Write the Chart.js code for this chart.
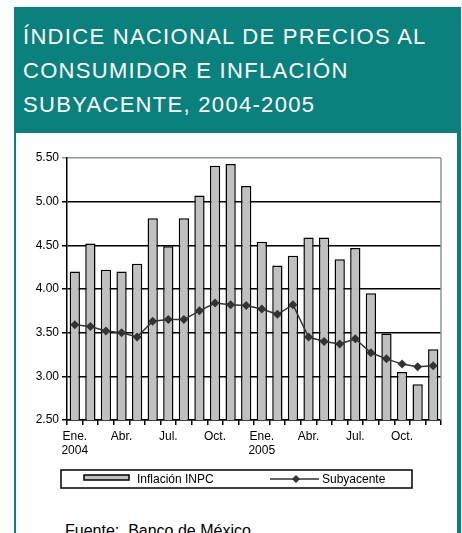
<!DOCTYPE html>
<html>
<head>
<meta charset="utf-8">
<script src="https://cdn.jsdelivr.net/npm/chart.js@4/dist/chart.umd.min.js"></script>
<style>
    body { margin: 0; width: 462px; height: 533px; overflow: hidden; background: #fff; font-family: 'Liberation Sans', Arial, sans-serif; }
    .marco { position: absolute; left: 14px; top: 7px; width: 447px; height: 540px; background: #0a817d; }
    .titulo { position: absolute; left: 9px; top: 13px; color: #fff; font-size: 22px; line-height: 34px; letter-spacing: 1.3px; }
    .panel { position: absolute; left: 2px; top: 126px; width: 441px; height: 420px; background: #fff; }
    .lienzo { position: absolute; left: 0; top: 7px; width: 441px; height: 370px; }
    .fuente { position: absolute; left: 49px; top: 390px; font-size: 16px; line-height: 16px; color: #000; }
</style>
</head>
<body>
<div class="marco">
    <div class="titulo">ÍNDICE NACIONAL DE PRECIOS AL<br>CONSUMIDOR E INFLACIÓN<br>SUBYACENTE, 2004-2005</div>
    <div class="panel">
        <div class="lienzo"><canvas id="grafica"></canvas></div>
        <div class="fuente">Fuente:&nbsp; Banco de México</div>
    </div>
</div>
<script>
    // etiquetas del eje x (solo algunos meses)
    const meses = [
        ['Ene.', '2004'], '', '', 'Abr.', '', '', 'Jul.', '', '', 'Oct.', '', '',
        ['Ene.', '2005'], '', '', 'Abr.', '', '', 'Jul.', '', '', 'Oct.', '', ''
    ];

    // Inflación INPC (barras)
    const inflacionINPC = [
        4.20, 4.52, 4.22, 4.20, 4.29, 4.81, 4.49, 4.81, 5.07, 5.41, 5.43, 5.18,
        4.54, 4.27, 4.38, 4.59, 4.59, 4.34, 4.47, 3.95, 3.49, 3.05, 2.91, 3.31
    ];

    // Inflación subyacente (línea)
    const subyacente = [
        3.59, 3.57, 3.52, 3.50, 3.45, 3.63, 3.65, 3.65, 3.75, 3.84, 3.82, 3.81,
        3.77, 3.71, 3.82, 3.45, 3.40, 3.37, 3.43, 3.27, 3.20, 3.14, 3.11, 3.12
    ];

    const yTicks = [2.5, 3.0, 3.5, 4.0, 4.5, 5.0, 5.5];

    const fuente = "'Liberation Sans', Arial, sans-serif";

    // marco gris a la derecha + leyenda con recuadro
    const extras = {
        id: 'extras',
        afterDraw(chart) {
            const ctx = chart.ctx;
            const a = chart.chartArea;
            ctx.save();
            ctx.strokeStyle = '#8a9a9a';
            ctx.lineWidth = 1.5;
            ctx.beginPath();
            ctx.moveTo(a.right, a.top);
            ctx.lineTo(a.right, a.bottom);
            ctx.stroke();

            // leyenda
            const lx = 45, ly = 330, lw = 351, lh = 18;
            ctx.strokeStyle = '#000';
            ctx.lineWidth = 1.5;
            ctx.strokeRect(lx, ly, lw, lh);
            ctx.font = '12px ' + fuente;
            ctx.fillStyle = '#000';
            ctx.textBaseline = 'middle';
            const ds = chart.data.datasets;
            // barras
            ctx.fillStyle = ds[0].backgroundColor;
            ctx.fillRect(68, ly + 5, 45, 5);
            ctx.lineWidth = 1.5;
            ctx.strokeRect(68, ly + 5, 45, 5);
            ctx.fillStyle = '#000';
            ctx.fillText(ds[0].label, 121, ly + lh / 2 + 1);
            // línea
            ctx.strokeStyle = ds[1].borderColor;
            ctx.beginPath();
            ctx.moveTo(254, ly + lh / 2);
            ctx.lineTo(303, ly + lh / 2);
            ctx.stroke();
            ctx.fillStyle = ds[1].pointBackgroundColor;
            ctx.beginPath();
            const cx = 280, cy = ly + lh / 2, r = 4;
            ctx.moveTo(cx, cy - r); ctx.lineTo(cx + r, cy); ctx.lineTo(cx, cy + r); ctx.lineTo(cx - r, cy);
            ctx.closePath();
            ctx.fill();
            ctx.fillStyle = '#000';
            ctx.fillText(ds[1].label, 306, ly + lh / 2 + 1);
            ctx.restore();
        }
    };

    document.addEventListener('DOMContentLoaded', function () {
        const ctx = document.getElementById('grafica').getContext('2d');
        new Chart(ctx, {
            data: {
                labels: meses,
                datasets: [{
                    type: 'bar',
                    label: 'Inflación INPC',
                    data: inflacionINPC,
                    backgroundColor: '#c0c0c0',
                    borderColor: '#000',
                    borderWidth: 1.5,
                    borderSkipped: 'bottom',
                    categoryPercentage: 1.0,
                    barPercentage: 0.66,
                    order: 2
                }, {
                    type: 'line',
                    label: 'Subyacente',
                    data: subyacente,
                    borderColor: '#333333',
                    borderWidth: 1.5,
                    pointStyle: 'rectRot',
                    pointRadius: 4.5,
                    pointBackgroundColor: '#333333',
                    pointBorderColor: '#333333',
                    pointBorderWidth: 0,
                    tension: 0,
                    fill: false,
                    order: 1
                }]
            },
            options: {
                responsive: true,
                maintainAspectRatio: false,
                animation: false,
                layout: { padding: { top: 18, right: 16, bottom: 45, left: 0 } },
                plugins: {
                    legend: { display: false },
                    tooltip: { enabled: false }
                },
                scales: {
                    x: {
                        offset: true,
                        grid: {
                            offset: true,
                            drawOnChartArea: false,
                            color: '#000',
                            lineWidth: 1.5,
                            tickLength: 5
                        },
                        border: { color: '#000', width: 1.5 },
                        ticks: {
                            autoSkip: false,
                            maxRotation: 0,
                            padding: 4,
                            color: '#000',
                            font: { family: fuente, size: 12 }
                        },
                        afterFit(scale) { scale.height = 45; }
                    },
                    y: {
                        min: 2.5,
                        max: 5.5,
                        afterBuildTicks(scale) {
                            scale.ticks = yTicks.map(v => ({ value: v }));
                        },
                        grid: {
                            color: c => (c.tick && c.tick.value === 5.5) ? '#8a9a9a' : '#000',
                            lineWidth: 1.5,
                            tickLength: 5
                        },
                        border: { color: '#000', width: 1.5 },
                        ticks: {
                            padding: 3,
                            color: '#000',
                            font: { family: fuente, size: 12 },
                            callback: v => Number(v).toFixed(2)
                        },
                        afterFit(scale) { scale.width = 51; }
                    }
                }
            },
            plugins: [extras]
        });
    });
</script>
</body>
</html>
